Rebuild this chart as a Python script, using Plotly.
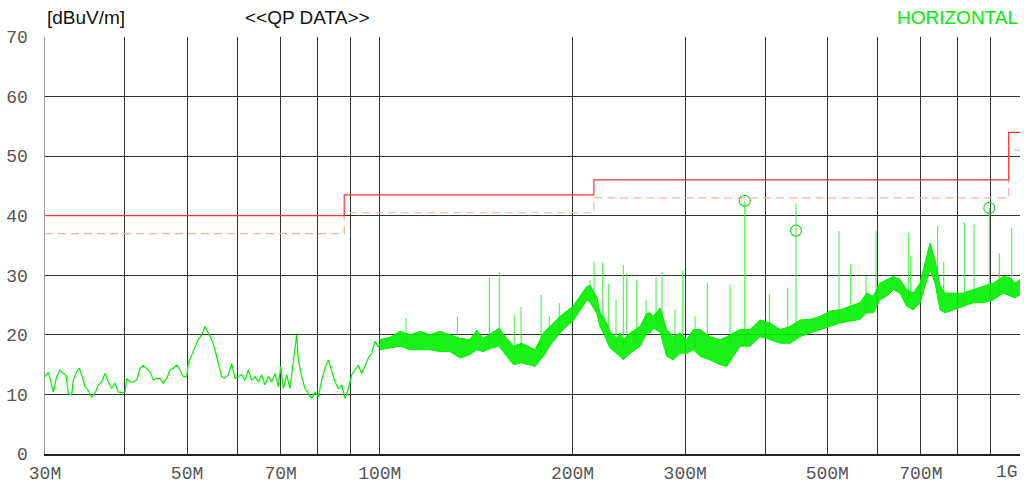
import plotly.graph_objects as go

# ---------------- data (frequencies in MHz, levels in dBuV/m) ----------------
line_freq = [30.00, 30.36, 30.54, 30.91, 31.29, 31.66, 32.04, 32.35, 32.62, 33.02,
             33.21, 33.62, 33.94, 34.23, 34.64, 35.05, 35.49, 35.91, 36.34, 36.78,
             37.23, 37.67, 38.13, 38.59, 39.05, 39.53, 40.00, 40.25, 40.73, 41.21,
             41.72, 42.22, 42.72, 43.25, 43.76, 44.29, 44.83, 45.37, 45.91, 46.48,
             47.03, 47.59, 48.18, 48.75, 49.33, 49.95, 50.22, 50.84, 51.45, 52.06,
             52.70, 53.33, 53.96, 54.63, 55.28, 55.95, 56.63, 57.31, 58.00, 58.71,
             59.41, 60.12, 60.86, 61.59, 62.32, 63.08, 63.84, 64.60, 65.40, 66.18,
             66.97, 67.80, 68.61, 69.43, 70.03, 70.69, 71.56, 72.41, 73.27, 73.72,
             74.17, 74.60, 75.51, 76.42, 77.33, 78.28, 79.22, 80.16, 81.15, 82.13,
             83.11, 84.13, 85.14, 86.16, 87.22, 88.26, 89.31, 90.42, 91.49, 92.58,
             93.72, 94.84, 95.98, 97.15, 98.31, 99.48, 100.0]
line_level = [13.0, 13.7, 12.7, 10.4, 13.0, 14.1, 13.5, 13.2, 10.2, 9.9,
              12.4, 13.8, 14.4, 13.3, 11.3, 10.7, 9.5, 10.2, 11.6, 12.1,
              13.5, 12.1, 11.0, 11.9, 10.4, 10.3, 10.4, 12.7, 12.1, 12.1,
              12.4, 14.4, 14.9, 14.4, 13.8, 12.4, 12.7, 12.7, 11.9, 12.7,
              14.1, 14.4, 14.9, 14.1, 13.0, 13.0, 15.2, 16.6, 18.0, 19.2,
              20.0, 21.4, 20.3, 19.2, 17.5, 15.2, 13.0, 12.7, 13.3, 15.2,
              12.7, 13.0, 13.3, 12.4, 14.1, 12.4, 13.0, 12.1, 13.3, 11.6,
              13.0, 12.1, 13.5, 11.3, 14.7, 11.0, 13.3, 11.0, 15.2, 17.5,
              20.0, 15.8, 13.0, 11.0, 10.2, 9.3, 10.4, 9.6, 12.4, 14.4,
              15.8, 13.8, 12.1, 11.0, 11.6, 9.3, 11.0, 13.3, 14.1, 14.9,
              13.5, 14.9, 16.1, 16.9, 18.9, 18.0, 18.4]

band_freq = [100.0, 103.8, 107.6, 111.5, 115.6, 119.8, 124.2, 128.7, 133.5, 138.3,
             141.7, 145.1, 149.6, 153.6, 157.9, 161.7, 166.6, 170.6, 174.8, 180.1,
             185.6, 191.2, 197.0, 200.0, 205.5, 210.5, 213.0, 218.2, 220.8, 223.5,
             228.9, 234.5, 237.3, 240.1, 246.0, 255.0, 261.2, 264.3, 267.5, 274.0,
             280.7, 287.4, 294.4, 301.6, 308.9, 316.4, 328.0, 340.0, 348.3, 356.7,
             365.4, 378.8, 392.6, 407.0, 421.9, 437.3, 453.3, 469.9, 487.1, 505.0,
             523.4, 542.6, 562.5, 576.2, 590.0, 604.4, 619.2, 634.0, 649.5, 665.3,
             681.3, 698.0, 710.6, 723.5, 736.7, 750.1, 763.6, 786.8, 815.6, 845.5,
             876.4, 908.6, 941.8, 964.7, 982.3, 1000.0]
band_hi = [19.2, 19.6, 20.6, 20.0, 20.6, 20.0, 20.6, 20.0, 19.4, 19.2,
           20.8, 19.4, 20.3, 21.1, 19.4, 18.1, 18.6, 18.1, 17.5, 20.3,
           21.7, 23.1, 24.2, 24.7, 26.5, 28.1, 28.3, 26.4, 23.7, 23.1,
           20.6, 19.4, 20.3, 19.2, 20.3, 21.4, 23.6, 23.7, 23.1, 24.5,
           20.9, 19.7, 20.3, 19.2, 20.9, 20.9, 19.7, 19.2, 19.7, 20.3,
           20.9, 20.9, 22.5, 22.0, 20.9, 21.4, 22.5, 22.6, 23.1, 24.0,
           24.2, 24.8, 25.4, 27.0, 26.5, 28.7, 29.3, 29.8, 29.3, 27.6,
           27.0, 28.7, 32.1, 35.4, 32.6, 28.2, 27.0, 27.0, 27.0, 27.6,
           28.2, 28.7, 29.8, 29.6, 28.7, 29.3]
band_lo = [17.5, 17.8, 18.1, 17.5, 17.5, 17.5, 17.2, 17.2, 16.1, 16.7,
           17.5, 17.2, 17.8, 18.1, 16.4, 15.0, 15.3, 15.0, 14.7, 16.4,
           18.6, 20.3, 21.7, 22.2, 24.0, 25.8, 25.5, 23.6, 21.4, 20.3,
           17.8, 16.9, 16.4, 15.8, 16.9, 18.1, 20.3, 20.3, 21.1, 20.5,
           16.4, 15.8, 16.9, 16.9, 17.5, 16.4, 15.8, 15.0, 14.7, 16.4,
           18.1, 18.1, 19.7, 19.2, 18.6, 18.6, 19.7, 20.3, 20.9, 21.5,
           22.0, 22.3, 22.6, 23.7, 23.7, 25.9, 26.5, 27.6, 27.0, 24.8,
           24.2, 25.4, 28.2, 31.0, 28.7, 24.2, 23.7, 24.2, 24.8, 25.4,
           25.4, 25.9, 27.0, 26.5, 26.2, 26.8]

spike_freq = [109.9, 132.2, 148.3, 153.7, 162.2, 166.2, 178.6, 184.0, 190.7, 213.0,
              216.1, 223.0, 227.5, 233.9, 240.1, 243.1, 252.0, 260.6, 270.1, 275.9,
              289.2, 297.3, 310.8, 324.8, 352.5, 371.6, 406.0, 433.7, 446.8, 521.6,
              543.9, 574.8, 595.9, 669.2, 675.0, 743.8, 760.1, 818.6, 847.6, 895.6,
              928.4, 970.7]
spike_top = [22.8, 23.1, 29.7, 30.6, 23.3, 24.7, 26.7, 23.1, 25.3, 29.2,
             32.3, 32.2, 28.6, 25.8, 31.7, 30.3, 29.2, 25.8, 29.7, 30.6,
             24.2, 30.8, 23.1, 28.7, 28.4, 42.5, 26.8, 27.9, 42.1, 37.4,
             31.8, 29.9, 37.4, 37.1, 33.2, 38.3, 32.3, 38.9, 38.5, 41.3,
             33.7, 38.0]
spike_base = [19.0, 19.0, 19.0, 19.0, 17.0, 17.0, 17.0, 19.0, 21.0, 27.0,
              26.0, 22.0, 20.0, 18.0, 18.0, 18.0, 19.0, 21.0, 22.0, 22.0,
              18.0, 18.0, 18.0, 18.0, 18.0, 19.0, 20.0, 20.0, 20.0, 22.0,
              23.0, 24.0, 25.0, 26.0, 26.0, 30.0, 26.0, 25.0, 26.0, 27.0,
              27.0, 27.0]

marker_freq = [371.6, 446.8, 895.6]
marker_level = [42.5, 37.5, 41.3]

limit_freq = [30, 88, 216, 960, 1000]
limit_qp = [40.0, 43.5, 46.0, 54.0, 54.0]
limit_margin = [37.0, 40.5, 43.0, 51.0, 51.0]

grid_freq = [30, 40, 50, 60, 70, 80, 90, 100, 200, 300, 400, 500, 600, 700, 800, 900, 1000]
grid_text = ["30M", "", "50M", "", "70M", "", "", "100M", "200M", "300M", "", "500M", "", "700M", "", "", ""]
last_tick_text = "1G"
y_ticks = [0, 10, 20, 30, 40, 50, 60, 70]

# ---------------- figure ----------------
GREEN = "#00f000"
TICKFONT = dict(family="Liberation Mono", size=18, color="#555555")
fig = go.Figure()

fig.add_trace(go.Scatter(x=limit_freq, y=limit_margin, mode="lines", line_shape="hv",
                         line=dict(color="#ffaaaa", width=1.2, dash="8px,5px"), hoverinfo="skip"))
fig.add_trace(go.Scatter(x=limit_freq, y=limit_qp, mode="lines", line_shape="hv",
                         line=dict(color="#ff3333", width=1.2), hoverinfo="skip"))

sx, sy = [], []
for f, b, t in zip(spike_freq, spike_base, spike_top):
    sx += [f, f, None]
    sy += [b, t, None]
fig.add_trace(go.Scatter(x=sx, y=sy, mode="lines", line=dict(color="#3cee3c", width=1),
                         hoverinfo="skip"))

fig.add_trace(go.Scatter(x=band_freq, y=band_lo, mode="lines",
                         line=dict(color=GREEN, width=1), hoverinfo="skip"))
fig.add_trace(go.Scatter(x=band_freq, y=band_hi, mode="lines", fill="tonexty",
                         fillcolor="rgba(0,240,0,0.9)",
                         line=dict(color=GREEN, width=1), hoverinfo="skip"))
fig.add_trace(go.Scatter(x=line_freq, y=line_level, mode="lines",
                         line=dict(color=GREEN, width=1.2), hoverinfo="skip"))

fig.add_trace(go.Scatter(x=marker_freq, y=marker_level, mode="markers",
                         marker=dict(symbol="circle-open", size=11, color="#22dd22",
                                     line=dict(width=1.2, color="#22dd22")),
                         hoverinfo="skip"))

fig.update_layout(
    width=1024, height=486,
    margin=dict(l=45, r=4, t=37, b=32, autoexpand=False),
    paper_bgcolor="white", plot_bgcolor="white",
    showlegend=False,
    xaxis=dict(type="log", range=[1.4771213, 3.0], tickvals=grid_freq, ticktext=grid_text,
               showgrid=True, gridcolor="#333333", gridwidth=1, automargin=False,
               showline=True, linecolor="#222222", linewidth=1.5,
               ticks="", ticklabelstandoff=2, tickfont=TICKFONT, zeroline=False),
    yaxis=dict(range=[0, 70], tickvals=y_ticks, automargin=False,
               showgrid=True, gridcolor="#333333", gridwidth=1,
               showline=True, linecolor="#999999", linewidth=1.5,
               ticks="", ticklabelstandoff=12, tickfont=TICKFONT, zeroline=False),
    annotations=[
        dict(text="[dBuV/m]", x=0.0, y=1.0456, xref="paper", yref="paper",
             xanchor="left", yanchor="middle", showarrow=False,
             font=dict(family="Liberation Sans", size=19, color="#111111")),
        dict(text="&lt;&lt;QP DATA&gt;&gt;", x=0.2031, y=1.0456, xref="paper", yref="paper",
             xanchor="left", yanchor="middle", showarrow=False,
             font=dict(family="Liberation Sans", size=19, color="#111111")),
        dict(text="HORIZONTAL", x=1.0, y=1.0456, xref="paper", yref="paper",
             xanchor="right", yanchor="middle", showarrow=False,
             font=dict(family="Liberation Sans", size=19, color="#00ee00")),
        dict(text=last_tick_text, x=1.0, y=-0.043, xref="paper", yref="paper",
             xanchor="right", yanchor="middle", showarrow=False, font=TICKFONT),
    ],
)

fig.write_html("out.html", config={"displayModeBar": False, "staticPlot": True},
               post_script="document.body.style.margin='0px';document.body.style.overflow='hidden';")
